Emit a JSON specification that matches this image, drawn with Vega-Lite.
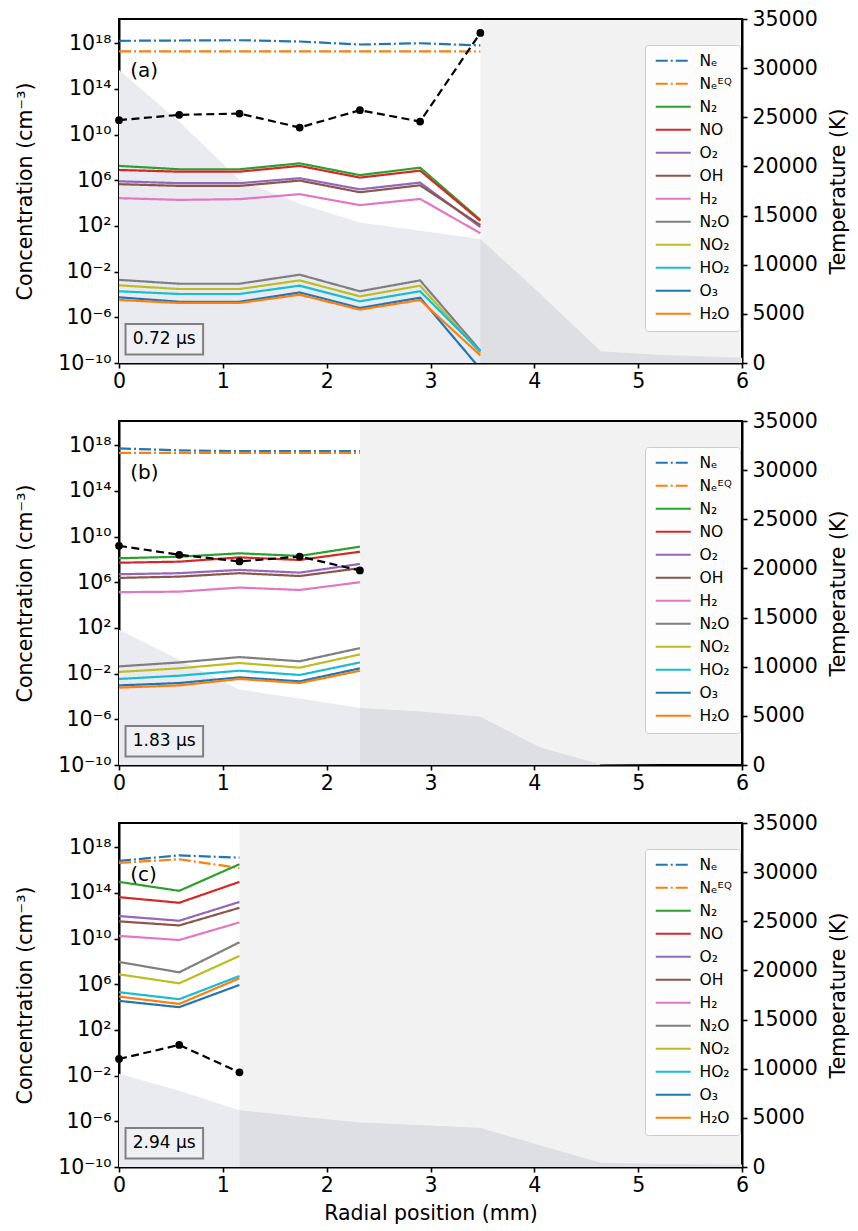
{
  "$schema": "https://vega.github.io/schema/vega-lite/v6.json",
  "padding": {"left": 14, "top": 8, "right": 6, "bottom": 4},
  "datasets": {
    "species": [
      {"panel":"a","x":0,"species":"Nₑ","conc":1.6e18},{"panel":"a","x":0.58,"species":"Nₑ","conc":1.7e18},{"panel":"a","x":1.16,"species":"Nₑ","conc":1.8e18},{"panel":"a","x":1.74,"species":"Nₑ","conc":1.4e18},{"panel":"a","x":2.32,"species":"Nₑ","conc":7.6e17},{"panel":"a","x":2.9,"species":"Nₑ","conc":9.8e17},{"panel":"a","x":3.48,"species":"Nₑ","conc":6.3e17},
      {"panel":"a","x":0,"species":"Nₑᴱꟴ","conc":1.9e17},{"panel":"a","x":0.58,"species":"Nₑᴱꟴ","conc":1.9e17},{"panel":"a","x":1.16,"species":"Nₑᴱꟴ","conc":1.9e17},{"panel":"a","x":1.74,"species":"Nₑᴱꟴ","conc":1.9e17},{"panel":"a","x":2.32,"species":"Nₑᴱꟴ","conc":1.9e17},{"panel":"a","x":2.9,"species":"Nₑᴱꟴ","conc":1.9e17},{"panel":"a","x":3.48,"species":"Nₑᴱꟴ","conc":1.85e17},
      {"panel":"a","x":0,"species":"N₂","conc":1.8e7},{"panel":"a","x":0.58,"species":"N₂","conc":9.1e6},{"panel":"a","x":1.16,"species":"N₂","conc":9.1e6},{"panel":"a","x":1.74,"species":"N₂","conc":3.0e7},{"panel":"a","x":2.32,"species":"N₂","conc":2.8e6},{"panel":"a","x":2.9,"species":"N₂","conc":1.26e7},{"panel":"a","x":3.48,"species":"N₂","conc":340},
      {"panel":"a","x":0,"species":"NO","conc":7.9e6},{"panel":"a","x":0.58,"species":"NO","conc":5.6e6},{"panel":"a","x":1.16,"species":"NO","conc":5.6e6},{"panel":"a","x":1.74,"species":"NO","conc":1.8e7},{"panel":"a","x":2.32,"species":"NO","conc":1.7e6},{"panel":"a","x":2.9,"species":"NO","conc":6.9e6},{"panel":"a","x":3.48,"species":"NO","conc":280},
      {"panel":"a","x":0,"species":"O₂","conc":8.1e5},{"panel":"a","x":0.58,"species":"O₂","conc":5.5e5},{"panel":"a","x":1.16,"species":"O₂","conc":5.5e5},{"panel":"a","x":1.74,"species":"O₂","conc":1.5e6},{"panel":"a","x":2.32,"species":"O₂","conc":1.6e5},{"panel":"a","x":2.9,"species":"O₂","conc":6.2e5},{"panel":"a","x":3.48,"species":"O₂","conc":79},
      {"panel":"a","x":0,"species":"OH","conc":4.5e5},{"panel":"a","x":0.58,"species":"OH","conc":3.2e5},{"panel":"a","x":1.16,"species":"OH","conc":3.2e5},{"panel":"a","x":1.74,"species":"OH","conc":9.3e5},{"panel":"a","x":2.32,"species":"OH","conc":8.9e4},{"panel":"a","x":2.9,"species":"OH","conc":3.6e5},{"panel":"a","x":3.48,"species":"OH","conc":117},
      {"panel":"a","x":0,"species":"H₂","conc":2.7e4},{"panel":"a","x":0.58,"species":"H₂","conc":1.9e4},{"panel":"a","x":1.16,"species":"H₂","conc":2.2e4},{"panel":"a","x":1.74,"species":"H₂","conc":6.0e4},{"panel":"a","x":2.32,"species":"H₂","conc":6.6e3},{"panel":"a","x":2.9,"species":"H₂","conc":2.3e4},{"panel":"a","x":3.48,"species":"H₂","conc":23},
      {"panel":"a","x":0,"species":"N₂O","conc":1.9e-3},{"panel":"a","x":0.58,"species":"N₂O","conc":8.7e-4},{"panel":"a","x":1.16,"species":"N₂O","conc":8.7e-4},{"panel":"a","x":1.74,"species":"N₂O","conc":5.4e-3},{"panel":"a","x":2.32,"species":"N₂O","conc":1.9e-4},{"panel":"a","x":2.9,"species":"N₂O","conc":1.7e-3},{"panel":"a","x":3.48,"species":"N₂O","conc":1.2e-9},
      {"panel":"a","x":0,"species":"NO₂","conc":6.3e-4},{"panel":"a","x":0.58,"species":"NO₂","conc":3.0e-4},{"panel":"a","x":1.16,"species":"NO₂","conc":3.0e-4},{"panel":"a","x":1.74,"species":"NO₂","conc":1.7e-3},{"panel":"a","x":2.32,"species":"NO₂","conc":6.8e-5},{"panel":"a","x":2.9,"species":"NO₂","conc":5.9e-4},{"panel":"a","x":3.48,"species":"NO₂","conc":7.8e-10},
      {"panel":"a","x":0,"species":"HO₂","conc":1.9e-4},{"panel":"a","x":0.58,"species":"HO₂","conc":1.1e-4},{"panel":"a","x":1.16,"species":"HO₂","conc":1.1e-4},{"panel":"a","x":1.74,"species":"HO₂","conc":5.9e-4},{"panel":"a","x":2.32,"species":"HO₂","conc":2.5e-5},{"panel":"a","x":2.9,"species":"HO₂","conc":1.9e-4},{"panel":"a","x":3.48,"species":"HO₂","conc":1.0e-9},
      {"panel":"a","x":0,"species":"O₃","conc":5.6e-5},{"panel":"a","x":0.58,"species":"O₃","conc":2.3e-5},{"panel":"a","x":1.16,"species":"O₃","conc":2.3e-5},{"panel":"a","x":1.74,"species":"O₃","conc":1.5e-4},{"panel":"a","x":2.32,"species":"O₃","conc":6.6e-6},{"panel":"a","x":2.9,"species":"O₃","conc":5.2e-5},{"panel":"a","x":3.48,"species":"O₃","conc":3e-11},
      {"panel":"a","x":0,"species":"H₂O","conc":3.3e-5},{"panel":"a","x":0.58,"species":"H₂O","conc":1.8e-5},{"panel":"a","x":1.16,"species":"H₂O","conc":1.8e-5},{"panel":"a","x":1.74,"species":"H₂O","conc":9.5e-5},{"panel":"a","x":2.32,"species":"H₂O","conc":4.7e-6},{"panel":"a","x":2.9,"species":"H₂O","conc":3.3e-5},{"panel":"a","x":3.48,"species":"H₂O","conc":4.6e-10},

      {"panel":"b","x":0,"species":"Nₑ","conc":5.2e17},{"panel":"b","x":0.58,"species":"Nₑ","conc":3.5e17},{"panel":"b","x":1.16,"species":"Nₑ","conc":3.0e17},{"panel":"b","x":1.74,"species":"Nₑ","conc":3.0e17},{"panel":"b","x":2.32,"species":"Nₑ","conc":3.0e17},
      {"panel":"b","x":0,"species":"Nₑᴱꟴ","conc":2.1e17},{"panel":"b","x":0.58,"species":"Nₑᴱꟴ","conc":2.1e17},{"panel":"b","x":1.16,"species":"Nₑᴱꟴ","conc":2.1e17},{"panel":"b","x":1.74,"species":"Nₑᴱꟴ","conc":2.1e17},{"panel":"b","x":2.32,"species":"Nₑᴱꟴ","conc":2.1e17},
      {"panel":"b","x":0,"species":"N₂","conc":1.26e8},{"panel":"b","x":0.58,"species":"N₂","conc":1.7e8},{"panel":"b","x":1.16,"species":"N₂","conc":3.4e8},{"panel":"b","x":1.74,"species":"N₂","conc":2.0e8},{"panel":"b","x":2.32,"species":"N₂","conc":1.3e9},
      {"panel":"b","x":0,"species":"NO","conc":5.1e7},{"panel":"b","x":0.58,"species":"NO","conc":6.3e7},{"panel":"b","x":1.16,"species":"NO","conc":1.5e8},{"panel":"b","x":1.74,"species":"NO","conc":8.9e7},{"panel":"b","x":2.32,"species":"NO","conc":4.7e8},
      {"panel":"b","x":0,"species":"O₂","conc":5.0e6},{"panel":"b","x":0.58,"species":"O₂","conc":6.2e6},{"panel":"b","x":1.16,"species":"O₂","conc":1.2e7},{"panel":"b","x":1.74,"species":"O₂","conc":6.9e6},{"panel":"b","x":2.32,"species":"O₂","conc":4.0e7},
      {"panel":"b","x":0,"species":"OH","conc":2.4e6},{"panel":"b","x":0.58,"species":"OH","conc":3.1e6},{"panel":"b","x":1.16,"species":"OH","conc":6.2e6},{"panel":"b","x":1.74,"species":"OH","conc":3.5e6},{"panel":"b","x":2.32,"species":"OH","conc":1.7e7},
      {"panel":"b","x":0,"species":"H₂","conc":1.35e5},{"panel":"b","x":0.58,"species":"H₂","conc":1.5e5},{"panel":"b","x":1.16,"species":"H₂","conc":3.4e5},{"panel":"b","x":1.74,"species":"H₂","conc":2.1e5},{"panel":"b","x":2.32,"species":"H₂","conc":1.0e6},
      {"panel":"b","x":0,"species":"N₂O","conc":4.3e-2},{"panel":"b","x":0.58,"species":"N₂O","conc":9.5e-2},{"panel":"b","x":1.16,"species":"N₂O","conc":0.28},{"panel":"b","x":1.74,"species":"N₂O","conc":0.12},{"panel":"b","x":2.32,"species":"N₂O","conc":1.7},
      {"panel":"b","x":0,"species":"NO₂","conc":1.4e-2},{"panel":"b","x":0.58,"species":"NO₂","conc":2.9e-2},{"panel":"b","x":1.16,"species":"NO₂","conc":8.5e-2},{"panel":"b","x":1.74,"species":"NO₂","conc":3.3e-2},{"panel":"b","x":2.32,"species":"NO₂","conc":0.48},
      {"panel":"b","x":0,"species":"HO₂","conc":3.4e-3},{"panel":"b","x":0.58,"species":"HO₂","conc":6.6e-3},{"panel":"b","x":1.16,"species":"HO₂","conc":1.8e-2},{"panel":"b","x":1.74,"species":"HO₂","conc":7.6e-3},{"panel":"b","x":2.32,"species":"HO₂","conc":9.5e-2},
      {"panel":"b","x":0,"species":"O₃","conc":9.3e-4},{"panel":"b","x":0.58,"species":"O₃","conc":1.5e-3},{"panel":"b","x":1.16,"species":"O₃","conc":4.7e-3},{"panel":"b","x":1.74,"species":"O₃","conc":2.1e-3},{"panel":"b","x":2.32,"species":"O₃","conc":2.9e-2},
      {"panel":"b","x":0,"species":"H₂O","conc":5.9e-4},{"panel":"b","x":0.58,"species":"H₂O","conc":9.3e-4},{"panel":"b","x":1.16,"species":"H₂O","conc":3.4e-3},{"panel":"b","x":1.74,"species":"H₂O","conc":1.5e-3},{"panel":"b","x":2.32,"species":"H₂O","conc":1.8e-2},

      {"panel":"c","x":0,"species":"Nₑ","conc":6.3e16},{"panel":"c","x":0.58,"species":"Nₑ","conc":1.9e17},{"panel":"c","x":1.16,"species":"Nₑ","conc":1.2e17},
      {"panel":"c","x":0,"species":"Nₑᴱꟴ","conc":4.2e16},{"panel":"c","x":0.58,"species":"Nₑᴱꟴ","conc":8.7e16},{"panel":"c","x":1.16,"species":"Nₑᴱꟴ","conc":1.5e16},
      {"panel":"c","x":0,"species":"N₂","conc":9.1e14},{"panel":"c","x":0.58,"species":"N₂","conc":1.5e14},{"panel":"c","x":1.16,"species":"N₂","conc":3.2e16},
      {"panel":"c","x":0,"species":"NO","conc":4.2e13},{"panel":"c","x":0.58,"species":"NO","conc":1.35e13},{"panel":"c","x":1.16,"species":"NO","conc":9.1e14},
      {"panel":"c","x":0,"species":"O₂","conc":9.3e11},{"panel":"c","x":0.58,"species":"O₂","conc":3.6e11},{"panel":"c","x":1.16,"species":"O₂","conc":1.6e13},
      {"panel":"c","x":0,"species":"OH","conc":3.2e11},{"panel":"c","x":0.58,"species":"OH","conc":1.4e11},{"panel":"c","x":1.16,"species":"OH","conc":4.9e12},
      {"panel":"c","x":0,"species":"H₂","conc":1.7e10},{"panel":"c","x":0.58,"species":"H₂","conc":7.4e9},{"panel":"c","x":1.16,"species":"H₂","conc":2.6e11},
      {"panel":"c","x":0,"species":"N₂O","conc":8.9e7},{"panel":"c","x":0.58,"species":"N₂O","conc":1.1e7},{"panel":"c","x":1.16,"species":"N₂O","conc":4.7e9},
      {"panel":"c","x":0,"species":"NO₂","conc":7.4e6},{"panel":"c","x":0.58,"species":"NO₂","conc":1.2e6},{"panel":"c","x":1.16,"species":"NO₂","conc":3.0e8},
      {"panel":"c","x":0,"species":"HO₂","conc":2.0e5},{"panel":"c","x":0.58,"species":"HO₂","conc":4.9e4},{"panel":"c","x":1.16,"species":"HO₂","conc":5.2e6},
      {"panel":"c","x":0,"species":"O₃","conc":3.5e4},{"panel":"c","x":0.58,"species":"O₃","conc":9.8e3},{"panel":"c","x":1.16,"species":"O₃","conc":8.7e5},
      {"panel":"c","x":0,"species":"H₂O","conc":8.3e4},{"panel":"c","x":0.58,"species":"H₂O","conc":1.9e4},{"panel":"c","x":1.16,"species":"H₂O","conc":3.3e6}
    ],
    "temperature": [
      {"panel":"a","x":0,"T":24710},{"panel":"a","x":0.58,"T":25250},{"panel":"a","x":1.16,"T":25380},{"panel":"a","x":1.74,"T":23960},{"panel":"a","x":2.32,"T":25720},{"panel":"a","x":2.9,"T":24570},{"panel":"a","x":3.48,"T":33580},
      {"panel":"b","x":0,"T":22300},{"panel":"b","x":0.58,"T":21390},{"panel":"b","x":1.16,"T":20710},{"panel":"b","x":1.74,"T":21210},{"panel":"b","x":2.32,"T":19790},
      {"panel":"c","x":0,"T":10990},{"panel":"c","x":0.58,"T":12420},{"panel":"c","x":1.16,"T":9630}
    ],
    "profile": [
      {"panel":"a","x":0,"T":29820},{"panel":"a","x":0.58,"T":24540},{"panel":"a","x":1.16,"T":18640},{"panel":"a","x":1.74,"T":16200},{"panel":"a","x":2.32,"T":14300},{"panel":"a","x":2.9,"T":13460},{"panel":"a","x":3.48,"T":12620},{"panel":"a","x":4.06,"T":7000},{"panel":"a","x":4.64,"T":1200},{"panel":"a","x":5.22,"T":810},{"panel":"a","x":5.8,"T":610},{"panel":"a","x":6,"T":530},
      {"panel":"b","x":0,"T":13770},{"panel":"b","x":0.58,"T":10720},{"panel":"b","x":1.16,"T":7670},{"panel":"b","x":1.74,"T":6760},{"panel":"b","x":2.32,"T":5810},{"panel":"b","x":2.9,"T":5440},{"panel":"b","x":3.48,"T":4900},{"panel":"b","x":4.06,"T":1780},{"panel":"b","x":4.64,"T":50},{"panel":"b","x":5.22,"T":0},{"panel":"b","x":5.8,"T":0},{"panel":"b","x":6,"T":0},
      {"panel":"c","x":0,"T":9500},{"panel":"c","x":0.58,"T":7770},{"panel":"c","x":1.16,"T":5770},{"panel":"c","x":1.74,"T":5130},{"panel":"c","x":2.32,"T":4520},{"panel":"c","x":2.9,"T":4270},{"panel":"c","x":3.48,"T":3980},{"panel":"c","x":4.06,"T":2180},{"panel":"c","x":4.64,"T":430},{"panel":"c","x":5.22,"T":300},{"panel":"c","x":5.8,"T":250},{"panel":"c","x":6,"T":250}
    ]
  },
  "spacing": 17,
  "resolve": {"scale": {"color": "independent", "strokeDash": "independent"}, "legend": {"color": "independent", "strokeDash": "independent"}},
  "vconcat": [
    {
      "width": 623, "height": 344,
      "layer": [
        {"layer": [
          {"data": {"name": "profile"}, "transform": [{"filter": "datum.panel === 'a'"}],
           "mark": {"type": "area", "color": "#eaebf0"},
           "encoding": {
             "x": {"field": "x", "type": "quantitative", "scale": {"domain": [0, 6], "nice": false}, "axis": {"values": [0,1,2,3,4,5,6], "format": "d", "title": null}},
             "y": {"field": "T", "type": "quantitative", "scale": {"domain": [0, 35000], "nice": false}, "axis": {"orient": "right", "values": [0,5000,10000,15000,20000,25000,30000,35000], "format": "d", "title": "Temperature (K)", "titleAngle": 270, "titleBaseline": "top", "titlePadding": 11, "labelPadding": 5}}
           }},
          {"data": {"values": [{}]}, "mark": {"type": "rect", "fill": "black", "opacity": 0.05},
           "encoding": {"x": {"datum": 3.48, "type": "quantitative"}, "x2": {"datum": 6}, "y": {"datum": 0, "type": "quantitative"}, "y2": {"datum": 35000}}}
        ]},
        {"layer": [
          {"data": {"name": "species"}, "transform": [{"filter": "datum.panel === 'a'"}],
           "mark": {"type": "line", "strokeWidth": 2.2, "clip": true},
           "encoding": {
             "x": {"field": "x", "type": "quantitative", "scale": {"domain": [0, 6], "nice": false}, "axis": {"values": [0,1,2,3,4,5,6], "format": "d", "title": null}},
             "y": {"field": "conc", "type": "quantitative", "scale": {"type": "log", "domain": [1e-10, 1.3e20], "nice": false}, "axis": {"orient": "left", "values": [1e-10,1e-6,0.01,100,1e6,1e10,1e14,1e18], "labelExpr": "datum.value < 1e-8 ? '10⁻¹⁰' : datum.value < 1e-4 ? '10⁻⁶' : datum.value < 1 ? '10⁻²' : datum.value < 1e4 ? '10²' : datum.value < 1e8 ? '10⁶' : datum.value < 1e12 ? '10¹⁰' : datum.value < 1e16 ? '10¹⁴' : '10¹⁸'", "title": "Concentration (cm⁻³)", "titlePadding": 22}},
             "color": {"field": "species", "type": "nominal", "sort": null, "scale": {"domain": ["Nₑ","Nₑᴱꟴ","N₂","NO","O₂","OH","H₂","N₂O","NO₂","HO₂","O₃","H₂O"], "range": ["#1f77b4","#ff7f0e","#2ca02c","#d62728","#9467bd","#8c564b","#e377c2","#7f7f7f","#bcbd22","#17becf","#1f77b4","#ff7f0e"]},
               "legend": {"orient": "none", "legendX": 526, "legendY": 26, "title": null, "labelFontSize": 15.5, "symbolType": "M-1,0L6,0", "symbolSize": 100, "symbolStrokeWidth": 2.2, "labelOffset": 31, "rowPadding": 6, "padding": 8, "strokeColor": "#cccccc", "fillColor": "rgba(255,255,255,0.8)", "cornerRadius": 3}},
             "strokeDash": {"field": "species", "type": "nominal", "sort": null, "scale": {"domain": ["Nₑ","Nₑᴱꟴ","N₂","NO","O₂","OH","H₂","N₂O","NO₂","HO₂","O₃","H₂O"], "range": [[12,3,2,3],[12,3,2,3],[1,0],[1,0],[1,0],[1,0],[1,0],[1,0],[1,0],[1,0],[1,0],[1,0]]},
               "legend": {"orient": "none", "legendX": 526, "legendY": 26, "title": null, "labelFontSize": 15.5, "symbolType": "M-1,0L6,0", "symbolSize": 100, "symbolStrokeWidth": 2.2, "labelOffset": 31, "rowPadding": 6, "padding": 8, "strokeColor": "#cccccc", "fillColor": "rgba(255,255,255,0.8)", "cornerRadius": 3}}
           }},
          {"data": {"values": [{}]}, "mark": {"type": "text", "text": "(a)", "fontSize": 20, "align": "left", "baseline": "middle"},
           "encoding": {"x": {"datum": 0.108, "type": "quantitative"}, "y": {"datum": 4e15, "type": "quantitative"}}},
          {"data": {"values": [{}]}, "mark": {"type": "rect", "fill": "white", "fillOpacity": 0.25, "stroke": "#808080", "strokeWidth": 2},
           "encoding": {"x": {"datum": 0.063, "type": "quantitative"}, "x2": {"datum": 0.81}, "y": {"datum": 5.5e-10, "type": "quantitative"}, "y2": {"datum": 2.6e-7}}},
          {"data": {"values": [{}]}, "mark": {"type": "text", "text": "0.72 μs", "fontSize": 17, "align": "center", "baseline": "middle"},
           "encoding": {"x": {"datum": 0.436, "type": "quantitative"}, "y": {"datum": 1.2e-8, "type": "quantitative"}}}
        ]},
        {"data": {"name": "temperature"}, "transform": [{"filter": "datum.panel === 'a'"}],
         "mark": {"type": "line", "color": "black", "strokeWidth": 2.2, "strokeDash": [8, 4.5], "point": {"filled": true, "size": 60, "color": "black"}},
         "encoding": {
           "x": {"field": "x", "type": "quantitative", "scale": {"domain": [0, 6], "nice": false}, "axis": {"values": [0,1,2,3,4,5,6], "format": "d", "title": null}},
           "y": {"field": "T", "type": "quantitative", "scale": {"domain": [0, 35000], "nice": false}, "axis": null}
         }}
      ],
      "resolve": {"scale": {"y": "independent"}, "axis": {"y": "independent"}}
    },
    {
      "width": 623, "height": 344,
      "layer": [
        {"layer": [
          {"data": {"name": "profile"}, "transform": [{"filter": "datum.panel === 'b'"}],
           "mark": {"type": "area", "color": "#eaebf0"},
           "encoding": {
             "x": {"field": "x", "type": "quantitative", "scale": {"domain": [0, 6], "nice": false}, "axis": {"values": [0,1,2,3,4,5,6], "format": "d", "title": null}},
             "y": {"field": "T", "type": "quantitative", "scale": {"domain": [0, 35000], "nice": false}, "axis": {"orient": "right", "values": [0,5000,10000,15000,20000,25000,30000,35000], "format": "d", "title": "Temperature (K)", "titleAngle": 270, "titleBaseline": "top", "titlePadding": 11, "labelPadding": 5}}
           }},
          {"data": {"values": [{}]}, "mark": {"type": "rect", "fill": "black", "opacity": 0.05},
           "encoding": {"x": {"datum": 2.32, "type": "quantitative"}, "x2": {"datum": 6}, "y": {"datum": 0, "type": "quantitative"}, "y2": {"datum": 35000}}}
        ]},
        {"layer": [
          {"data": {"name": "species"}, "transform": [{"filter": "datum.panel === 'b'"}],
           "mark": {"type": "line", "strokeWidth": 2.2, "clip": true},
           "encoding": {
             "x": {"field": "x", "type": "quantitative", "scale": {"domain": [0, 6], "nice": false}, "axis": {"values": [0,1,2,3,4,5,6], "format": "d", "title": null}},
             "y": {"field": "conc", "type": "quantitative", "scale": {"type": "log", "domain": [1e-10, 1.3e20], "nice": false}, "axis": {"orient": "left", "values": [1e-10,1e-6,0.01,100,1e6,1e10,1e14,1e18], "labelExpr": "datum.value < 1e-8 ? '10⁻¹⁰' : datum.value < 1e-4 ? '10⁻⁶' : datum.value < 1 ? '10⁻²' : datum.value < 1e4 ? '10²' : datum.value < 1e8 ? '10⁶' : datum.value < 1e12 ? '10¹⁰' : datum.value < 1e16 ? '10¹⁴' : '10¹⁸'", "title": "Concentration (cm⁻³)", "titlePadding": 22}},
             "color": {"field": "species", "type": "nominal", "sort": null, "scale": {"domain": ["Nₑ","Nₑᴱꟴ","N₂","NO","O₂","OH","H₂","N₂O","NO₂","HO₂","O₃","H₂O"], "range": ["#1f77b4","#ff7f0e","#2ca02c","#d62728","#9467bd","#8c564b","#e377c2","#7f7f7f","#bcbd22","#17becf","#1f77b4","#ff7f0e"]},
               "legend": {"orient": "none", "legendX": 526, "legendY": 26, "title": null, "labelFontSize": 15.5, "symbolType": "M-1,0L6,0", "symbolSize": 100, "symbolStrokeWidth": 2.2, "labelOffset": 31, "rowPadding": 6, "padding": 8, "strokeColor": "#cccccc", "fillColor": "rgba(255,255,255,0.8)", "cornerRadius": 3}},
             "strokeDash": {"field": "species", "type": "nominal", "sort": null, "scale": {"domain": ["Nₑ","Nₑᴱꟴ","N₂","NO","O₂","OH","H₂","N₂O","NO₂","HO₂","O₃","H₂O"], "range": [[12,3,2,3],[12,3,2,3],[1,0],[1,0],[1,0],[1,0],[1,0],[1,0],[1,0],[1,0],[1,0],[1,0]]},
               "legend": {"orient": "none", "legendX": 526, "legendY": 26, "title": null, "labelFontSize": 15.5, "symbolType": "M-1,0L6,0", "symbolSize": 100, "symbolStrokeWidth": 2.2, "labelOffset": 31, "rowPadding": 6, "padding": 8, "strokeColor": "#cccccc", "fillColor": "rgba(255,255,255,0.8)", "cornerRadius": 3}}
           }},
          {"data": {"values": [{}]}, "mark": {"type": "text", "text": "(b)", "fontSize": 20, "align": "left", "baseline": "middle"},
           "encoding": {"x": {"datum": 0.108, "type": "quantitative"}, "y": {"datum": 4e15, "type": "quantitative"}}},
          {"data": {"values": [{}]}, "mark": {"type": "rect", "fill": "white", "fillOpacity": 0.25, "stroke": "#808080", "strokeWidth": 2},
           "encoding": {"x": {"datum": 0.063, "type": "quantitative"}, "x2": {"datum": 0.81}, "y": {"datum": 5.5e-10, "type": "quantitative"}, "y2": {"datum": 2.6e-7}}},
          {"data": {"values": [{}]}, "mark": {"type": "text", "text": "1.83 μs", "fontSize": 17, "align": "center", "baseline": "middle"},
           "encoding": {"x": {"datum": 0.436, "type": "quantitative"}, "y": {"datum": 1.2e-8, "type": "quantitative"}}}
        ]},
        {"data": {"name": "temperature"}, "transform": [{"filter": "datum.panel === 'b'"}],
         "mark": {"type": "line", "color": "black", "strokeWidth": 2.2, "strokeDash": [8, 4.5], "point": {"filled": true, "size": 60, "color": "black"}},
         "encoding": {
           "x": {"field": "x", "type": "quantitative", "scale": {"domain": [0, 6], "nice": false}, "axis": {"values": [0,1,2,3,4,5,6], "format": "d", "title": null}},
           "y": {"field": "T", "type": "quantitative", "scale": {"domain": [0, 35000], "nice": false}, "axis": null}
         }}
      ],
      "resolve": {"scale": {"y": "independent"}, "axis": {"y": "independent"}}
    },
    {
      "width": 623, "height": 344,
      "layer": [
        {"layer": [
          {"data": {"name": "profile"}, "transform": [{"filter": "datum.panel === 'c'"}],
           "mark": {"type": "area", "color": "#eaebf0"},
           "encoding": {
             "x": {"field": "x", "type": "quantitative", "scale": {"domain": [0, 6], "nice": false}, "axis": {"values": [0,1,2,3,4,5,6], "format": "d", "title": "Radial position (mm)", "titlePadding": 8}},
             "y": {"field": "T", "type": "quantitative", "scale": {"domain": [0, 35000], "nice": false}, "axis": {"orient": "right", "values": [0,5000,10000,15000,20000,25000,30000,35000], "format": "d", "title": "Temperature (K)", "titleAngle": 270, "titleBaseline": "top", "titlePadding": 11, "labelPadding": 5}}
           }},
          {"data": {"values": [{}]}, "mark": {"type": "rect", "fill": "black", "opacity": 0.05},
           "encoding": {"x": {"datum": 1.16, "type": "quantitative"}, "x2": {"datum": 6}, "y": {"datum": 0, "type": "quantitative"}, "y2": {"datum": 35000}}}
        ]},
        {"layer": [
          {"data": {"name": "species"}, "transform": [{"filter": "datum.panel === 'c'"}],
           "mark": {"type": "line", "strokeWidth": 2.2, "clip": true},
           "encoding": {
             "x": {"field": "x", "type": "quantitative", "scale": {"domain": [0, 6], "nice": false}, "axis": {"values": [0,1,2,3,4,5,6], "format": "d", "title": "Radial position (mm)", "titlePadding": 8}},
             "y": {"field": "conc", "type": "quantitative", "scale": {"type": "log", "domain": [1e-10, 1.3e20], "nice": false}, "axis": {"orient": "left", "values": [1e-10,1e-6,0.01,100,1e6,1e10,1e14,1e18], "labelExpr": "datum.value < 1e-8 ? '10⁻¹⁰' : datum.value < 1e-4 ? '10⁻⁶' : datum.value < 1 ? '10⁻²' : datum.value < 1e4 ? '10²' : datum.value < 1e8 ? '10⁶' : datum.value < 1e12 ? '10¹⁰' : datum.value < 1e16 ? '10¹⁴' : '10¹⁸'", "title": "Concentration (cm⁻³)", "titlePadding": 22}},
             "color": {"field": "species", "type": "nominal", "sort": null, "scale": {"domain": ["Nₑ","Nₑᴱꟴ","N₂","NO","O₂","OH","H₂","N₂O","NO₂","HO₂","O₃","H₂O"], "range": ["#1f77b4","#ff7f0e","#2ca02c","#d62728","#9467bd","#8c564b","#e377c2","#7f7f7f","#bcbd22","#17becf","#1f77b4","#ff7f0e"]},
               "legend": {"orient": "none", "legendX": 526, "legendY": 26, "title": null, "labelFontSize": 15.5, "symbolType": "M-1,0L6,0", "symbolSize": 100, "symbolStrokeWidth": 2.2, "labelOffset": 31, "rowPadding": 6, "padding": 8, "strokeColor": "#cccccc", "fillColor": "rgba(255,255,255,0.8)", "cornerRadius": 3}},
             "strokeDash": {"field": "species", "type": "nominal", "sort": null, "scale": {"domain": ["Nₑ","Nₑᴱꟴ","N₂","NO","O₂","OH","H₂","N₂O","NO₂","HO₂","O₃","H₂O"], "range": [[12,3,2,3],[12,3,2,3],[1,0],[1,0],[1,0],[1,0],[1,0],[1,0],[1,0],[1,0],[1,0],[1,0]]},
               "legend": {"orient": "none", "legendX": 526, "legendY": 26, "title": null, "labelFontSize": 15.5, "symbolType": "M-1,0L6,0", "symbolSize": 100, "symbolStrokeWidth": 2.2, "labelOffset": 31, "rowPadding": 6, "padding": 8, "strokeColor": "#cccccc", "fillColor": "rgba(255,255,255,0.8)", "cornerRadius": 3}}
           }},
          {"data": {"values": [{}]}, "mark": {"type": "text", "text": "(c)", "fontSize": 20, "align": "left", "baseline": "middle"},
           "encoding": {"x": {"datum": 0.108, "type": "quantitative"}, "y": {"datum": 4e15, "type": "quantitative"}}},
          {"data": {"values": [{}]}, "mark": {"type": "rect", "fill": "white", "fillOpacity": 0.25, "stroke": "#808080", "strokeWidth": 2},
           "encoding": {"x": {"datum": 0.063, "type": "quantitative"}, "x2": {"datum": 0.81}, "y": {"datum": 5.5e-10, "type": "quantitative"}, "y2": {"datum": 2.6e-7}}},
          {"data": {"values": [{}]}, "mark": {"type": "text", "text": "2.94 μs", "fontSize": 17, "align": "center", "baseline": "middle"},
           "encoding": {"x": {"datum": 0.436, "type": "quantitative"}, "y": {"datum": 1.2e-8, "type": "quantitative"}}}
        ]},
        {"data": {"name": "temperature"}, "transform": [{"filter": "datum.panel === 'c'"}],
         "mark": {"type": "line", "color": "black", "strokeWidth": 2.2, "strokeDash": [8, 4.5], "point": {"filled": true, "size": 60, "color": "black"}},
         "encoding": {
           "x": {"field": "x", "type": "quantitative", "scale": {"domain": [0, 6], "nice": false}, "axis": {"values": [0,1,2,3,4,5,6], "format": "d", "title": "Radial position (mm)", "titlePadding": 8}},
           "y": {"field": "T", "type": "quantitative", "scale": {"domain": [0, 35000], "nice": false}, "axis": null}
         }}
      ],
      "resolve": {"scale": {"y": "independent"}, "axis": {"y": "independent"}}
    }
  ],
  "config": {
    "font": "DejaVu Sans",
    "view": {"stroke": "black", "strokeWidth": 2},
    "axis": {"domainColor": "black", "domainWidth": 2, "tickColor": "black", "tickWidth": 1.6, "tickSize": 5, "labelFontSize": 20.5, "labelColor": "black", "labelPadding": 3, "titleFontSize": 20.5, "titleFontWeight": "normal", "titleColor": "black", "grid": false},
    "axisX": {"labelFlush": false},
    "text": {"font": "DejaVu Sans", "color": "black"},
    "legend": {"labelFont": "DejaVu Sans", "labelColor": "black"}
  }
}
